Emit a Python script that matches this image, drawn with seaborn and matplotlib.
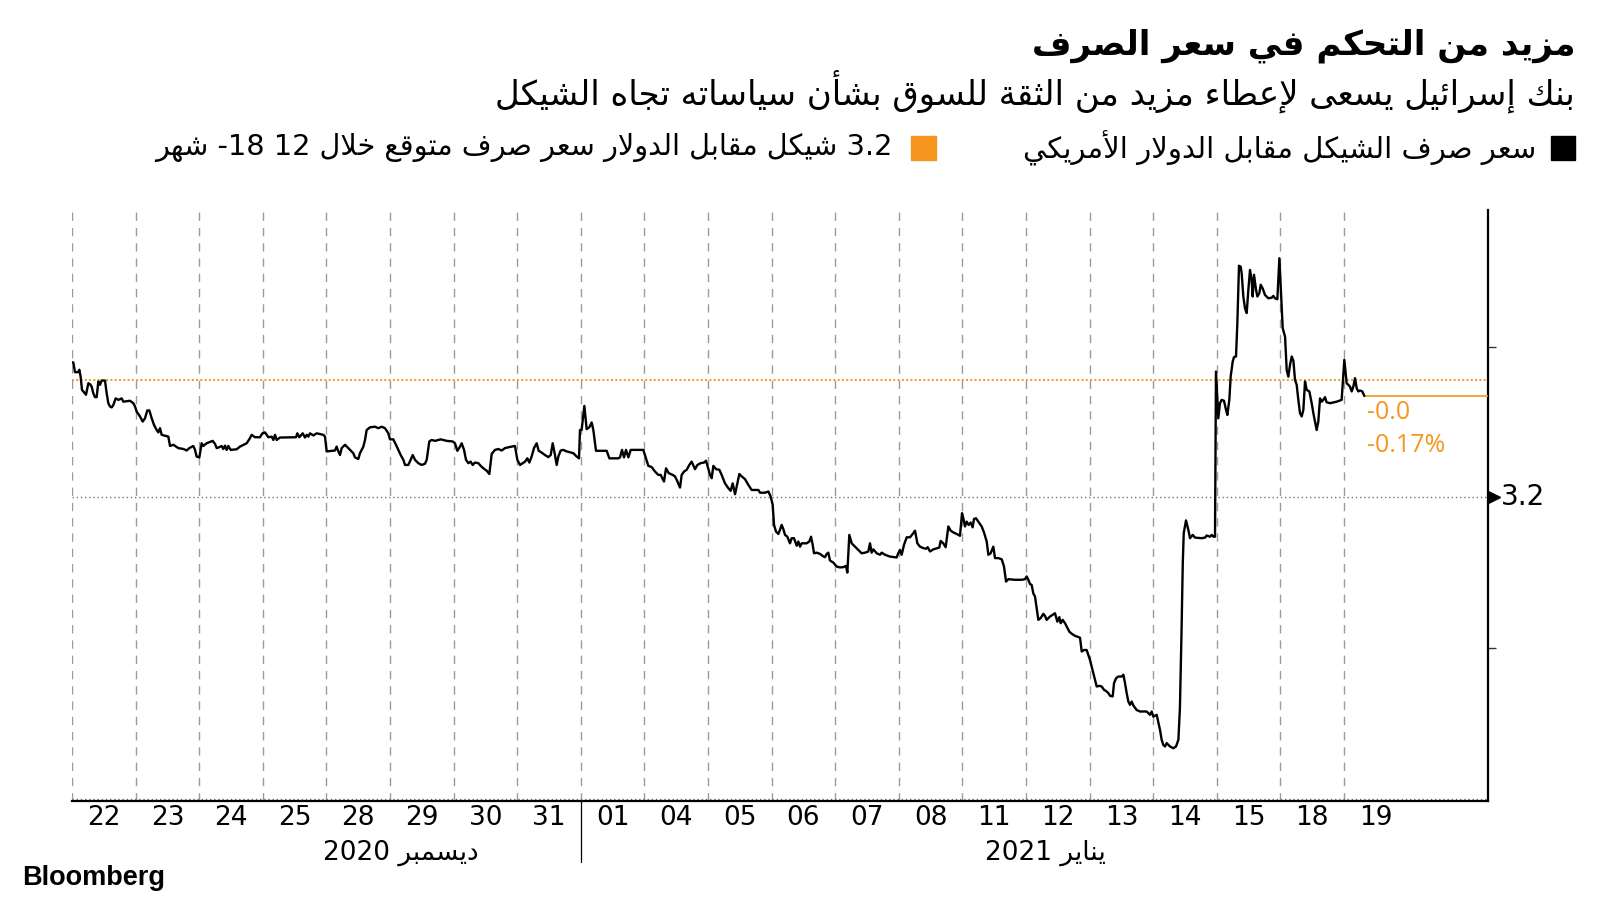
import re
import numpy as np
import pandas as pd
import matplotlib
matplotlib.use('Agg')
import matplotlib.pyplot as plt
import seaborn as sns
from matplotlib.patches import Rectangle
from matplotlib import font_manager as fm

# ---------------- data ----------------
DAY_LABELS = ['22', '23', '24', '25', '28', '29', '30', '31', '01', '04', '05',
              '06', '07', '08', '11', '12', '13', '14', '15', '18', '19']
MONTH_LABELS = ['ديسمبر 2020', 'يناير 2021']
MONTH_POS = [5.17, 15.3]
TITLE = 'مزيد من التحكم في سعر الصرف'
SUBTITLE = 'بنك إسرائيل يسعى لإعطاء مزيد من الثقة للسوق بشأن سياساته تجاه الشيكل'
LEGEND1 = 'سعر صرف الشيكل مقابل الدولار الأمريكي'
LEGEND2 = '3.2 شيكل مقابل الدولار سعر صرف متوقع خلال 12 -18 شهر'
CHANGE_LABELS = ['-0.0', '-0.17%']
REF_LEVEL = 3.2
EXPECTED_LINE = 3.2389
Y_TICKS = [3.15, 3.2, 3.25]

# time in trading days since start of 22 Dec (fractional = intraday)
T = [0.000, 0.021, 0.047, 0.100, 0.115, 0.136, 0.157, 0.178, 0.220, 0.257, 0.283, 0.309, 0.335, 0.362,
     0.388, 0.414, 0.440, 0.466, 0.519, 0.545, 0.571, 0.597, 0.624, 0.650, 0.687, 0.729, 0.781, 0.807,
     0.912, 0.964, 0.991, 1.017, 1.069, 1.111, 1.148, 1.184, 1.216, 1.253, 1.289, 1.331, 1.357, 1.384,
     1.410, 1.515, 1.541, 1.593, 1.672, 1.751, 1.803, 1.845, 1.908, 1.934, 1.960, 2.002, 2.039, 2.065,
     2.117, 2.212, 2.248, 2.275, 2.317, 2.353, 2.379, 2.406, 2.432, 2.458, 2.495, 2.589, 2.642, 2.746,
     2.799, 2.825, 2.877, 2.956, 2.993, 3.035, 3.087, 3.139, 3.166, 3.192, 3.218, 3.270, 3.522, 3.543,
     3.574, 3.627, 3.663, 3.690, 3.716, 3.742, 3.795, 3.847, 3.952, 3.978, 4.004, 4.135, 4.161, 4.188,
     4.214, 4.240, 4.293, 4.345, 4.423, 4.450, 4.502, 4.528, 4.581, 4.607, 4.633, 4.686, 4.764, 4.816,
     4.869, 4.921, 4.974,
     5.000, 5.052, 5.094, 5.131, 5.168, 5.210, 5.236, 5.288, 5.325, 5.357, 5.393, 5.445, 5.498, 5.550,
     5.577, 5.618, 5.655, 5.708, 5.760, 5.797, 5.891, 5.985, 6.022, 6.059, 6.101, 6.127, 6.164, 6.195,
     6.232, 6.268, 6.300, 6.336, 6.389, 6.426, 6.468, 6.520, 6.562, 6.599, 6.651, 6.703, 6.756, 6.808,
     6.913, 6.965, 7.002, 7.044, 7.086, 7.123, 7.159, 7.191, 7.227, 7.264, 7.306, 7.338, 7.385, 7.437,
     7.490, 7.527, 7.558, 7.594, 7.621, 7.647, 7.684, 7.725, 7.778, 7.883, 7.935, 7.972, 7.987, 8.013,
     8.056, 8.092, 8.134, 8.171, 8.197, 8.239, 8.407, 8.449, 8.591, 8.616, 8.648, 8.679, 8.711, 8.748,
     8.784, 8.983, 9.062, 9.114, 9.167, 9.219, 9.256, 9.308, 9.340, 9.382, 9.445, 9.481, 9.507, 9.560,
     9.586, 9.623, 9.665, 9.706, 9.743, 9.796, 9.833, 9.885, 9.937, 9.969, 10.006, 10.032,
     10.058, 10.084, 10.126, 10.178, 10.215, 10.267, 10.320, 10.356, 10.388, 10.425, 10.461, 10.493,
     10.530, 10.582, 10.634, 10.687, 10.792, 10.818, 10.896, 10.949, 10.986, 11.017, 11.038, 11.069,
     11.106, 11.132, 11.158, 11.185, 11.211, 11.247, 11.289, 11.316, 11.352, 11.394, 11.420, 11.447,
     11.473, 11.551, 11.593, 11.620, 11.646, 11.667, 11.709, 11.761, 11.803, 11.840, 11.866, 11.892,
     11.918, 11.971, 12.023, 12.075, 12.128, 12.170, 12.191, 12.222, 12.259, 12.311, 12.364, 12.416,
     12.469, 12.521, 12.547, 12.573, 12.600, 12.652, 12.704, 12.731, 12.783, 12.862, 12.966, 12.992,
     13.019, 13.045, 13.082, 13.124, 13.176, 13.229, 13.255, 13.292, 13.333, 13.386, 13.428, 13.454,
     13.491, 13.543, 13.637, 13.658, 13.700, 13.737, 13.779, 13.816, 13.858, 13.910, 13.962, 13.994,
     14.015, 14.041, 14.067, 14.099, 14.130, 14.161, 14.182, 14.214, 14.250, 14.303, 14.340, 14.382,
     14.408, 14.444, 14.486, 14.513, 14.565, 14.618, 14.654, 14.686, 14.722, 14.827, 14.932, 14.984,
     15.010, 15.037, 15.063,
     15.089, 15.115, 15.142, 15.168, 15.194, 15.231, 15.273, 15.299, 15.325, 15.377, 15.456, 15.493,
     15.524, 15.545, 15.577, 15.613, 15.639, 15.681, 15.718, 15.771, 15.849, 15.876, 15.912, 15.954,
     15.980, 16.006, 16.033, 16.059, 16.085, 16.111, 16.153, 16.190, 16.226, 16.258, 16.295, 16.321,
     16.363, 16.384, 16.415, 16.452, 16.504, 16.531, 16.557, 16.583, 16.609, 16.635, 16.662, 16.688,
     16.740, 16.792, 16.897, 16.950, 16.976, 17.002, 17.055, 17.107, 17.133, 17.159, 17.186, 17.212,
     17.264, 17.317, 17.359, 17.396, 17.420, 17.445, 17.465,
     17.480, 17.516, 17.552, 17.579, 17.621, 17.657, 17.762, 17.815, 17.841, 17.893, 17.920, 17.946,
     17.972, 17.987, 18.008, 18.024, 18.050, 18.077, 18.113, 18.145, 18.166, 18.197, 18.218, 18.250,
     18.271, 18.302, 18.323, 18.349, 18.375, 18.391, 18.417, 18.443, 18.470, 18.496, 18.522, 18.548,
     18.564, 18.585, 18.617, 18.638, 18.669, 18.690, 18.721, 18.758, 18.811, 18.863, 18.889, 18.915,
     18.952, 18.984, 19.005, 19.036, 19.073, 19.099, 19.125, 19.151, 19.178, 19.204, 19.230, 19.256,
     19.282, 19.308, 19.335, 19.361, 19.387, 19.413, 19.455, 19.492, 19.518, 19.544, 19.570, 19.596,
     19.623, 19.649, 19.675, 19.701, 19.727, 19.780, 19.885, 19.937, 19.963, 19.990, 20.005, 20.042,
     20.068, 20.094, 20.121, 20.147, 20.173, 20.199, 20.225, 20.252, 20.288, 20.320]

# USD/ILS rate
V = [3.2448, 3.2447, 3.2415, 3.2415, 3.2423, 3.2400, 3.2356, 3.2351, 3.2340, 3.2378, 3.2375, 3.2367, 3.2345, 3.2332,
     3.2332, 3.2384, 3.2373, 3.2387, 3.2387, 3.2345, 3.2312, 3.2301, 3.2298, 3.2306, 3.2328, 3.2323, 3.2328, 3.2317,
     3.2320, 3.2312, 3.2301, 3.2284, 3.2268, 3.2251, 3.2262, 3.2288, 3.2288, 3.2262, 3.2240, 3.2223, 3.2215, 3.2229,
     3.2207, 3.2201, 3.2170, 3.2174, 3.2163, 3.2160, 3.2155, 3.2163, 3.2170, 3.2157, 3.2135, 3.2132, 3.2179, 3.2170,
     3.2179, 3.2187, 3.2177, 3.2163, 3.2166, 3.2170, 3.2160, 3.2171, 3.2157, 3.2170, 3.2157, 3.2159, 3.2168, 3.2179,
     3.2196, 3.2207, 3.2199, 3.2199, 3.2212, 3.2215, 3.2199, 3.2201, 3.2190, 3.2207, 3.2190, 3.2198, 3.2199, 3.2212,
     3.2199, 3.2212, 3.2198, 3.2207, 3.2201, 3.2212, 3.2205, 3.2212, 3.2207, 3.2201, 3.2152, 3.2155, 3.2168, 3.2152,
     3.2140, 3.2163, 3.2174, 3.2163, 3.2146, 3.2132, 3.2127, 3.2146, 3.2168, 3.2190, 3.2223, 3.2232, 3.2234, 3.2229,
     3.2234, 3.2229, 3.2212,
     3.2192, 3.2192, 3.2174, 3.2157, 3.2140, 3.2124, 3.2107, 3.2107, 3.2124, 3.2140, 3.2124, 3.2113, 3.2107, 3.2111,
     3.2124, 3.2185, 3.2190, 3.2187, 3.2190, 3.2192, 3.2187, 3.2185, 3.2179, 3.2154, 3.2168, 3.2179, 3.2157, 3.2124,
     3.2113, 3.2118, 3.2107, 3.2115, 3.2113, 3.2104, 3.2096, 3.2088, 3.2077, 3.2144, 3.2157, 3.2160, 3.2155, 3.2163,
     3.2168, 3.2170, 3.2124, 3.2107, 3.2113, 3.2118, 3.2129, 3.2115, 3.2135, 3.2163, 3.2179, 3.2154, 3.2148, 3.2140,
     3.2133, 3.2140, 3.2179, 3.2140, 3.2107, 3.2135, 3.2155, 3.2157, 3.2152, 3.2146, 3.2135, 3.2129, 3.2223, 3.2223,
     3.2303, 3.2226, 3.2232, 3.2248, 3.2223, 3.2154, 3.2154, 3.2129, 3.2129, 3.2132, 3.2157, 3.2132, 3.2157, 3.2132,
     3.2157, 3.2157, 3.2104, 3.2100, 3.2085, 3.2074, 3.2074, 3.2052, 3.2096, 3.2080, 3.2074, 3.2069, 3.2058, 3.2032,
     3.2074, 3.2085, 3.2091, 3.2107, 3.2118, 3.2093, 3.2107, 3.2113, 3.2115, 3.2121, 3.2093, 3.2074,
     3.2063, 3.2104, 3.2093, 3.2091, 3.2074, 3.2046, 3.2030, 3.2021, 3.2046, 3.2010, 3.2046, 3.2077,
     3.2069, 3.2060, 3.2041, 3.2024, 3.2024, 3.2015, 3.2015, 3.2019, 3.2002, 3.1975, 3.1908, 3.1886,
     3.1878, 3.1892, 3.1908, 3.1894, 3.1875, 3.1869, 3.1847, 3.1864, 3.1864, 3.1839, 3.1853, 3.1836,
     3.1847, 3.1847, 3.1853, 3.1869, 3.1842, 3.1814, 3.1816, 3.1812, 3.1805, 3.1801, 3.1812, 3.1816,
     3.1790, 3.1783, 3.1770, 3.1767, 3.1768, 3.1772, 3.1750, 3.1875, 3.1847, 3.1836, 3.1825, 3.1814,
     3.1816, 3.1820, 3.1847, 3.1816, 3.1827, 3.1814, 3.1809, 3.1816, 3.1809, 3.1803, 3.1800, 3.1814,
     3.1825, 3.1809, 3.1842, 3.1867, 3.1867, 3.1881, 3.1889, 3.1847, 3.1836, 3.1831, 3.1829, 3.1834,
     3.1820, 3.1827, 3.1833, 3.1855, 3.1847, 3.1834, 3.1903, 3.1889, 3.1883, 3.1878, 3.1872, 3.1947,
     3.1930, 3.1903, 3.1919, 3.1908, 3.1916, 3.1900, 3.1928, 3.1930, 3.1919, 3.1903, 3.1883, 3.1853,
     3.1809, 3.1814, 3.1836, 3.1798, 3.1798, 3.1794, 3.1770, 3.1720, 3.1728, 3.1726, 3.1726, 3.1728,
     3.1737, 3.1726, 3.1712,
     3.1709, 3.1681, 3.1670, 3.1632, 3.1593, 3.1599, 3.1613, 3.1606, 3.1593, 3.1604, 3.1615, 3.1587,
     3.1602, 3.1582, 3.1593, 3.1582, 3.1571, 3.1554, 3.1547, 3.1540, 3.1534, 3.1488, 3.1493, 3.1493,
     3.1477, 3.1460, 3.1438, 3.1416, 3.1394, 3.1372, 3.1374, 3.1372, 3.1361, 3.1357, 3.1350, 3.1341,
     3.1339, 3.1383, 3.1399, 3.1405, 3.1405, 3.1411, 3.1383, 3.1350, 3.1322, 3.1311, 3.1322, 3.1309,
     3.1294, 3.1289, 3.1289, 3.1278, 3.1289, 3.1272, 3.1278, 3.1228, 3.1195, 3.1178, 3.1173, 3.1184,
     3.1173, 3.1167, 3.1173, 3.1195, 3.1300, 3.1550, 3.1780,
     3.1881, 3.1923, 3.1892, 3.1864, 3.1875, 3.1866, 3.1864, 3.1866, 3.1873, 3.1869, 3.1875, 3.1869,
     3.1869, 3.2417, 3.2328, 3.2262, 3.2312, 3.2323, 3.2320, 3.2290, 3.2273, 3.2323, 3.2400, 3.2450,
     3.2465, 3.2467, 3.2577, 3.2768, 3.2765, 3.2743, 3.2666, 3.2627, 3.2611, 3.2688, 3.2754, 3.2721,
     3.2666, 3.2738, 3.2688, 3.2666, 3.2677, 3.2705, 3.2693, 3.2671, 3.2660, 3.2662, 3.2668, 3.2660,
     3.2657, 3.2793, 3.2699, 3.2561, 3.2533, 3.2422, 3.2400, 3.2439, 3.2467, 3.2453, 3.2389, 3.2373,
     3.2323, 3.2279, 3.2268, 3.2290, 3.2384, 3.2356, 3.2351, 3.2312, 3.2279, 3.2251, 3.2223, 3.2251,
     3.2328, 3.2317, 3.2323, 3.2332, 3.2315, 3.2312, 3.2317, 3.2321, 3.2323, 3.2411, 3.2456, 3.2378,
     3.2373, 3.2367, 3.2351, 3.2367, 3.2395, 3.2362, 3.2351, 3.2354, 3.2351, 3.2336]

# ---------------- Arabic shaping (presentation forms) ----------------
_SEQ = [('\u0621', 0xFE80, 1), ('\u0622', 0xFE81, 2), ('\u0623', 0xFE83, 2), ('\u0624', 0xFE85, 2),
        ('\u0625', 0xFE87, 2), ('\u0626', 0xFE89, 4), ('\u0627', 0xFE8D, 2), ('\u0628', 0xFE8F, 4),
        ('\u0629', 0xFE93, 2), ('\u062A', 0xFE95, 4), ('\u062B', 0xFE99, 4), ('\u062C', 0xFE9D, 4),
        ('\u062D', 0xFEA1, 4), ('\u062E', 0xFEA5, 4), ('\u062F', 0xFEA9, 2), ('\u0630', 0xFEAB, 2),
        ('\u0631', 0xFEAD, 2), ('\u0632', 0xFEAF, 2), ('\u0633', 0xFEB1, 4), ('\u0634', 0xFEB5, 4),
        ('\u0635', 0xFEB9, 4), ('\u0636', 0xFEBD, 4), ('\u0637', 0xFEC1, 4), ('\u0638', 0xFEC5, 4),
        ('\u0639', 0xFEC9, 4), ('\u063A', 0xFECD, 4), ('\u0641', 0xFED1, 4), ('\u0642', 0xFED5, 4),
        ('\u0643', 0xFED9, 4), ('\u0644', 0xFEDD, 4), ('\u0645', 0xFEE1, 4), ('\u0646', 0xFEE5, 4),
        ('\u0647', 0xFEE9, 4), ('\u0648', 0xFEED, 2), ('\u0649', 0xFEEF, 2), ('\u064A', 0xFEF1, 4)]
BASE = {c: b for c, b, n in _SEQ}
NF = {c: n for c, b, n in _SEQ}
LAMALEF = {'\u0622': 0xFEF5, '\u0623': 0xFEF7, '\u0625': 0xFEF9, '\u0627': 0xFEFB}


def shape(s):
    items = []
    i = 0
    while i < len(s):
        c = s[i]
        if c == '\u0644' and i + 1 < len(s) and s[i + 1] in LAMALEF:
            items.append(('LA', s[i + 1]))
            i += 2
        else:
            items.append(c)
            i += 1

    def nj(x):
        if isinstance(x, tuple):
            return 2
        return NF.get(x, 0)

    out = []
    for k, x in enumerate(items):
        prev = items[k - 1] if k > 0 else None
        nxt = items[k + 1] if k + 1 < len(items) else None
        jp = prev is not None and nj(prev) == 4 and nj(x) >= 2
        jn = nxt is not None and nj(x) == 4 and nj(nxt) >= 2
        if isinstance(x, tuple):
            out.append(chr(LAMALEF[x[1]] + (1 if jp else 0)))
        elif x in BASE:
            b, n = BASE[x], NF[x]
            if n == 1:
                out.append(chr(b))
            elif n == 2:
                out.append(chr(b + 1) if jp else chr(b))
            else:
                if jp and jn:
                    out.append(chr(b + 3))
                elif jp:
                    out.append(chr(b + 1))
                elif jn:
                    out.append(chr(b + 2))
                else:
                    out.append(chr(b))
        else:
            out.append(x)
    return ''.join(out)


_LTR = r'[0-9A-Za-z.%\-]'


def rtl(s):
    toks = re.findall(_LTR + r'+|[^0-9A-Za-z.%\-]+', s)
    out = []
    for tok in reversed(toks):
        if re.match(_LTR, tok):
            out.append(tok)
        else:
            out.append(shape(tok)[::-1])
    return ''.join(out)


# ---------------- styling ----------------
sns.set_theme(style='white')
plt.rcParams['font.family'] = ['DejaVu Sans']

ORANGE = '#F5961E'
W, H = 1600, 900

fig = plt.figure(figsize=(16, 9), dpi=100)
fig.patch.set_facecolor('white')
L, R, TOP, BOT = 72, 1488, 210, 801
ax = fig.add_axes([L / W, 1 - BOT / H, (R - L) / W, (BOT - TOP) / H])
ax.set_facecolor('white')

XMAX = (R - L) / 63.6
ax.set_xlim(0, XMAX)
ax.set_ylim(3.0992, 3.2953)

# grid lines
for d in range(len(DAY_LABELS)):
    ax.axvline(d, color='#9b9b9b', lw=1.0, ls=(0, (6, 5)), zorder=1)
ax.axhline(REF_LEVEL, color='#777777', lw=1.0, ls=(0, (1, 2)), zorder=1)
ax.axhline(3.1, color='#777777', lw=1.0, ls=(0, (1, 2)), zorder=1)
ax.axhline(EXPECTED_LINE, color=ORANGE, lw=1.4, ls=(0, (1, 1.2)), zorder=2)

df = pd.DataFrame({'t': T, 'v': V})
sns.lineplot(data=df, x='t', y='v', ax=ax, color='black', lw=1.7,
             estimator=None, sort=False, zorder=4)

# last value line + annotation
ax.plot([T[-1], XMAX], [V[-1], V[-1]], color=ORANGE, lw=1.2, zorder=3)
ax.annotate(CHANGE_LABELS[0], (T[-1], V[-1]), xytext=(3, -17), textcoords='offset pixels',
            ha='left', va='center', fontsize=18, color=ORANGE, family='Open Sans')
ax.annotate(CHANGE_LABELS[1], (T[-1], V[-1]), xytext=(3, -50), textcoords='offset pixels',
            ha='left', va='center', fontsize=18, color=ORANGE, family='Open Sans')

# spines and ticks
for s in ['top', 'left']:
    ax.spines[s].set_visible(False)
for s in ['right', 'bottom']:
    ax.spines[s].set_color('black')
    ax.spines[s].set_linewidth(1.6)
ax.set_xticks([])
ax.yaxis.tick_right()
ax.set_yticks([y for y in Y_TICKS if y != REF_LEVEL])
ax.set_yticklabels([])
ax.tick_params(axis='y', length=6, width=1, color='#333333', direction='out')
ax.set_xlabel('')
ax.set_ylabel('')

# 3.2 arrow label
ax.plot([XMAX + 0.09], [REF_LEVEL], marker='>', ms=8, color='black', clip_on=False, zorder=5)
ax.text(XMAX + 0.2, REF_LEVEL, '3.2', ha='left', va='center', fontsize=20,
        color='black', clip_on=False)

# day labels
xt = ax.get_xaxis_transform()
for i, lab in enumerate(DAY_LABELS):
    ax.text(i + 0.5, (BOT - 818) / (BOT - TOP), lab, transform=xt, ha='center', va='center',
            fontsize=19, color='black')
for pos, lab in zip(MONTH_POS, MONTH_LABELS):
    ax.text(pos, (BOT - 853) / (BOT - TOP), rtl(lab), transform=xt, ha='center', va='center',
            fontsize=19, color='black')
ax.plot([8, 8], [0, (BOT - 862) / (BOT - TOP)], transform=xt, color='black', lw=0.9, clip_on=False)

# title, subtitle, legend
fig.text(1575 / W, 1 - 46 / H, rtl(TITLE), ha='right', va='center', fontsize=24.5,
         fontweight='bold', color='black')
fig.text(1575 / W, 1 - 91 / H, rtl(SUBTITLE), ha='right', va='center', fontsize=24.5, color='black')
fig.add_artist(Rectangle((1551 / W, 1 - 160 / H), 24 / W, 24 / H, transform=fig.transFigure,
                         color='black'))
fig.text(1536 / W, 1 - 148 / H, rtl(LEGEND1), ha='right', va='center', fontsize=21, color='black')
fig.add_artist(Rectangle((911 / W, 1 - 160 / H), 25 / W, 24 / H, transform=fig.transFigure,
                         color=ORANGE))
fig.text(893 / W, 1 - 148 / H, rtl(LEGEND2), ha='right', va='center', fontsize=20.7, color='black')

fig.text(22 / W, 1 - 878 / H, 'Bloomberg', ha='left', va='center', fontsize=19.5,
         fontweight='bold', family='Liberation Sans', color='black')

fig.savefig('out.png', dpi=100, facecolor='white')
